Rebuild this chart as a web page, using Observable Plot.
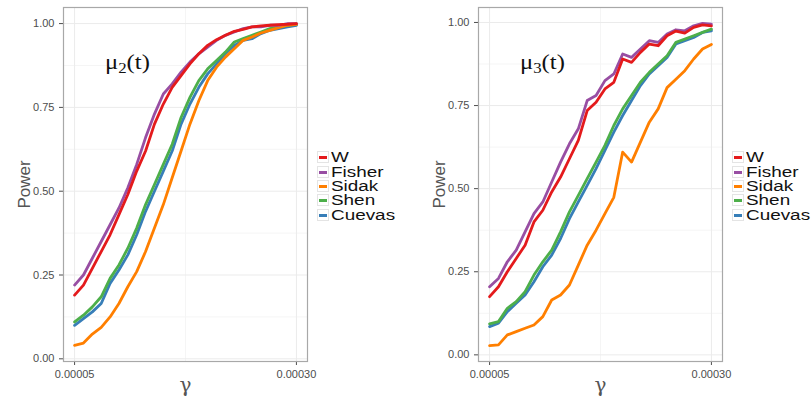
<!DOCTYPE html>
<html><head><meta charset="utf-8">
<script src="https://cdn.jsdelivr.net/npm/d3@7"></script>
<script src="https://cdn.jsdelivr.net/npm/@observablehq/plot@0.6"></script>
<style>
body{margin:0;background:#fff;font-family:"Liberation Sans",Arial,sans-serif;}
#wrap{position:relative;width:811px;height:403px;overflow:hidden;}
.panel{position:absolute;top:0;}
.title{position:absolute;font-family:"Liberation Serif","Times New Roman",serif;font-size:22px;color:#111;line-height:1;white-space:nowrap;transform:scaleX(1.12);transform-origin:left top;}
.title sub{font-size:15px;vertical-align:-4px;line-height:0;}
.legend{position:absolute;font-size:14px;color:#111;}
.row{display:flex;align-items:center;height:14.4px;line-height:14px;}
.row span.t{display:inline-block;transform:scaleX(1.35);transform-origin:left center;}
.key{width:12px;height:12px;border:1px solid #e4e4e4;position:relative;margin-right:2px;background:#fff;box-sizing:border-box;flex:none;}
.key i{position:absolute;left:1px;right:1px;top:4px;height:3px;}
svg g[aria-label="y-axis label"] text{font-size:17px;fill:#555;}
svg g[aria-label="x-axis label"] text{font-size:20px;fill:#555;font-family:"DejaVu Serif","Liberation Serif",serif;}
</style></head>
<body><div id="wrap"></div>
<script>
const gamma = [0.00005,0.00006,0.00007,0.00008,0.00009,0.00010,0.00011,0.00012,0.00013,0.00014,0.00015,0.00016,0.00017,0.00018,0.00019,0.00020,0.00021,0.00022,0.00023,0.00024,0.00025,0.00026,0.00027,0.00028,0.00029,0.00030];
const methods = ["W","Fisher","Sidak","Shen","Cuevas"];
const colors = ["#E41A1C","#984EA3","#FF7F00","#4DAF4A","#377EB8"];
const yTicks = [0,0.25,0.5,0.75,1];
const yMinor = [0.125,0.375,0.625,0.875];
const xTicks = [0.00005,0.0003];
const xMinor = [0.000175];

// mu2(t) panel
const mu2_W      = [0.19,0.22,0.27,0.32,0.37,0.43,0.49,0.56,0.62,0.70,0.76,0.81,0.845,0.88,0.91,0.935,0.952,0.965,0.977,0.983,0.99,0.993,0.995,0.997,0.998,1.0];
const mu2_Fisher = [0.22,0.25,0.30,0.35,0.40,0.45,0.51,0.58,0.66,0.73,0.79,0.82,0.855,0.885,0.91,0.93,0.95,0.965,0.975,0.985,0.99,0.99,0.995,0.995,1.0,1.0];
const mu2_Sidak  = [0.04,0.047,0.074,0.094,0.125,0.165,0.215,0.26,0.32,0.39,0.46,0.54,0.62,0.70,0.77,0.83,0.87,0.90,0.925,0.95,0.96,0.972,0.98,0.988,0.995,0.998];
const mu2_Shen   = [0.11,0.13,0.155,0.185,0.24,0.28,0.33,0.39,0.46,0.52,0.58,0.64,0.72,0.78,0.83,0.865,0.89,0.915,0.945,0.955,0.965,0.975,0.985,0.99,0.995,0.998];
const mu2_Cuevas = [0.10,0.12,0.14,0.165,0.225,0.265,0.31,0.37,0.44,0.50,0.56,0.62,0.70,0.76,0.81,0.85,0.88,0.91,0.935,0.95,0.955,0.97,0.98,0.985,0.99,0.995];

// mu3(t) panel
const mu3_W      = [0.175,0.205,0.25,0.29,0.33,0.40,0.435,0.49,0.535,0.59,0.645,0.735,0.76,0.80,0.82,0.89,0.88,0.91,0.935,0.93,0.96,0.974,0.968,0.985,0.993,0.99];
const mu3_Fisher = [0.205,0.23,0.28,0.315,0.37,0.425,0.46,0.52,0.58,0.635,0.68,0.765,0.78,0.825,0.845,0.905,0.895,0.92,0.945,0.94,0.965,0.978,0.975,0.99,0.997,0.995];
const mu3_Sidak  = [0.028,0.03,0.06,0.07,0.08,0.09,0.115,0.165,0.18,0.21,0.27,0.33,0.375,0.425,0.474,0.61,0.58,0.64,0.70,0.74,0.804,0.829,0.855,0.89,0.92,0.934];
const mu3_Shen   = [0.093,0.10,0.14,0.16,0.19,0.24,0.28,0.315,0.37,0.43,0.48,0.53,0.58,0.63,0.69,0.74,0.78,0.82,0.85,0.875,0.90,0.94,0.95,0.96,0.97,0.98];
const mu3_Cuevas = [0.085,0.095,0.13,0.155,0.18,0.22,0.265,0.30,0.35,0.41,0.46,0.51,0.56,0.615,0.67,0.72,0.765,0.81,0.845,0.87,0.895,0.935,0.945,0.955,0.97,0.975];

function makePanel(vals, yDomain) {
  const rows = [];
  for (let k = methods.length - 1; k >= 0; k--) {
    vals[k].forEach((v, i) => rows.push({gamma: gamma[i], power: v, method: methods[k]}));
  }
  return Plot.plot({
    width: 310, height: 403,
    marginLeft: 63, marginRight: 3, marginTop: 7, marginBottom: 42,
    style: {fontFamily: "'Liberation Sans', Arial, sans-serif", fontSize: "11px", color: "#4d4d4d", background: "#fff", overflow: "visible"},
    x: {domain: [0.0000375, 0.0003125], ticks: xTicks, tickFormat: d => d.toFixed(5), tickSize: 4, label: "γ", labelAnchor: "center", labelOffset: 30, labelArrow: "none"},
    y: {domain: yDomain, ticks: yTicks, tickFormat: d => d.toFixed(2), tickSize: 4, label: "Power", labelAnchor: "center", labelOffset: 46, labelArrow: "none"},
    color: {domain: methods, range: colors},
    marks: [
      Plot.ruleY(yMinor, {stroke: "#f5f5f5", strokeWidth: 1}),
      Plot.ruleX(xMinor, {stroke: "#f5f5f5", strokeWidth: 1}),
      Plot.ruleY(yTicks, {stroke: "#ebebeb", strokeWidth: 1}),
      Plot.ruleX(xTicks, {stroke: "#ebebeb", strokeWidth: 1}),
      Plot.line(rows, {x: "gamma", y: "power", z: "method", stroke: "method", strokeWidth: 2.8, strokeLinejoin: "round"}),
      Plot.frame({stroke: "#a8a8a8", strokeWidth: 1.2})
    ]
  });
}

const wrap = document.getElementById("wrap");
function addPanel(left, vals, yDomain, titleSub, titleX, legendX) {
  const div = document.createElement("div");
  div.className = "panel";
  div.style.left = left + "px";
  div.appendChild(makePanel(vals, yDomain));
  wrap.appendChild(div);
  const t = document.createElement("div");
  t.className = "title";
  t.style.left = titleX + "px";
  t.style.top = "51px";
  t.innerHTML = "μ<sub>" + titleSub + "</sub>(t)";
  wrap.appendChild(t);
  const lg = document.createElement("div");
  lg.className = "legend";
  lg.style.left = legendX + "px";
  lg.style.top = "150px";
  methods.forEach((m, k) => {
    const r = document.createElement("div");
    r.className = "row";
    r.innerHTML = '<span class="key"><i style="background:' + colors[k] + '"></i></span><span class="t">' + m + '</span>';
    lg.appendChild(r);
  });
  wrap.appendChild(lg);
}
addPanel(0, [mu2_W, mu2_Fisher, mu2_Sidak, mu2_Shen, mu2_Cuevas], [-0.008, 1.048], "2", 105, 317);
addPanel(415, [mu3_W, mu3_Fisher, mu3_Sidak, mu3_Shen, mu3_Cuevas], [-0.02, 1.045], "3", 520, 732);
</script>
</body></html>
